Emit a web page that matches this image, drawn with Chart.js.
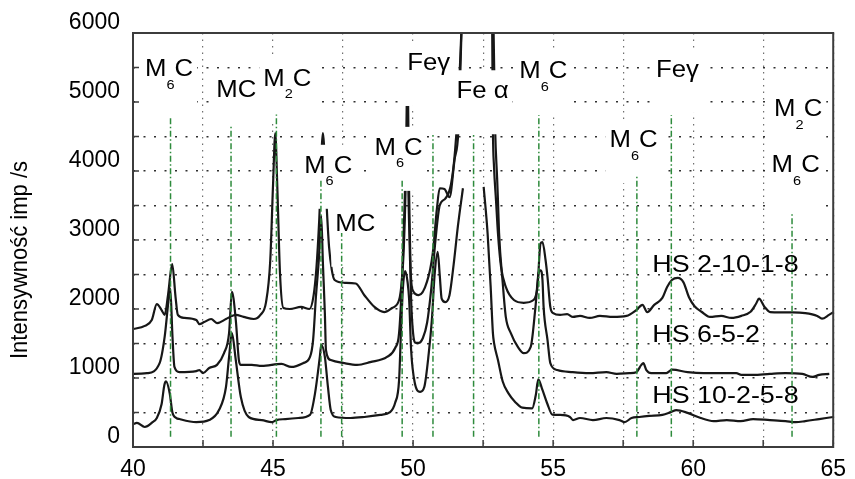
<!DOCTYPE html>
<html>
<head>
<meta charset="utf-8">
<script src="https://cdn.jsdelivr.net/npm/chart.js@4.4.1/dist/chart.umd.min.js"></script>
<style>
  html, body { margin: 0; padding: 0; background: #fff; }
  #wrap { position: relative; width: 855px; height: 479px; }
</style>
</head>
<body>
<div id="wrap"><canvas id="xrdChart"></canvas></div>
<script>
// Diffraction scans: [2θ in degrees, intensity in imp/s]
const hs21018 = [
  [40.0,1710],[40.42,1755],[40.67,1840],[40.85,2070],[41.02,1985],[41.13,1915],[41.25,2200],[41.4,2650],
  [41.52,2170],[41.6,1915],[41.84,1870],[42.26,1840],[42.37,1780],[42.54,1810],[42.79,1855],[43.0,1795],
  [43.32,1855],[43.46,1885],[43.67,1915],[43.95,1885],[44.31,1855],[44.55,1915],[44.75,2100],[44.9,2700],
  [45.0,3800],[45.08,4550],[45.15,3800],[45.25,2500],[45.37,2015],[45.6,2000],[46.0,2030],[46.3,2000],
  [46.45,2200],[46.55,2600],[46.65,3300],[46.78,4550],[46.9,3600],[47.0,2900],[47.1,2560],[47.2,2420],
  [47.55,2380],[47.95,2370],[48.26,2200],[48.62,2030],[48.97,1955],[49.25,2015],[49.5,2130],[49.6,2420],
  [49.67,2900],[49.73,3700],[49.8,5400],[49.86,3650],[49.92,2500],[50.0,2260],[50.2,2200],[50.5,2400],
  [50.7,2800],[50.85,3450],[50.95,3750],[51.12,3740],[51.3,3620],[51.48,4160],[51.62,4600],[51.75,6300],
  [52.3,12000],[52.82,6300],[52.85,4600],[52.89,4060],[52.96,3580],[53.03,3100],[53.14,2610],[53.31,2320],
  [53.6,2130],[53.95,2090],[54.3,2130],[54.44,2320],[54.55,2950],[54.62,2970],[54.73,2710],[54.8,2460],
  [54.9,2030],[55.0,1940],[55.25,1915],[55.5,1925],[55.71,1885],[55.96,1900],[56.31,1870],[56.67,1900],
  [57.13,1885],[57.62,1900],[57.97,1985],[58.19,2060],[58.36,1955],[58.61,2060],[58.9,2160],[59.07,2320],
  [59.24,2420],[59.45,2450],[59.65,2390],[59.85,2170],[60.05,2040],[60.3,1960],[60.6,1885],[61.0,1900],
  [61.37,1870],[61.72,1900],[62.05,1960],[62.25,2080],[62.35,2150],[62.55,2030],[62.75,1955],[63.1,1950],
  [63.55,1950],[64.0,1940],[64.43,1900],[64.6,1860],[64.85,1915],[65.0,1955]
];
const hs652 = [
  [40.0,1060],[40.5,1070],[40.95,1215],[41.13,1595],[41.27,2130],[41.33,2300],[41.41,1595],[41.48,1160],
  [41.66,1085],[42.26,1100],[42.37,1115],[42.5,1070],[42.72,1145],[43.0,1190],[43.25,1360],[43.43,1650],
  [43.53,2250],[43.67,1840],[43.78,1260],[43.85,1190],[44.24,1190],[44.6,1175],[45.3,1205],[45.65,1160],
  [46.07,1215],[46.32,1305],[46.43,1550],[46.53,2170],[46.64,2750],[46.72,3350],[46.78,2670],[46.85,1940],
  [46.89,1405],[47.06,1260],[47.55,1215],[48.0,1190],[48.47,1230],[49.07,1305],[49.36,1435],[49.5,1650],
  [49.6,2380],[49.68,3300],[49.78,4400],[49.86,3200],[49.93,2130],[50.0,1650],[50.1,1510],[50.2,1510],
  [50.35,1580],[50.5,1800],[50.65,2300],[50.8,3000],[50.95,3500],[51.15,3600],[51.35,3800],[51.5,4300],
  [51.64,5200],[51.76,6400],[52.3,12000],[52.86,6400],[52.93,4600],[53.0,3900],[53.03,3580],[53.07,3100],
  [53.2,2380],[53.31,1885],[53.49,1650],[53.74,1450],[53.95,1360],[54.2,1450],[54.37,2030],[54.48,2520],
  [54.55,2560],[54.62,2420],[54.66,2030],[54.8,1550],[54.9,1215],[55.15,1115],[55.7,1085],[56.3,1070],
  [56.9,1085],[57.27,1060],[57.72,1070],[57.97,1085],[58.15,1190],[58.22,1215],[58.33,1115],[58.5,1070],
  [59.04,1070],[59.25,1120],[59.8,1085],[60.37,1070],[60.97,1070],[61.54,1070],[61.72,1045],[62.14,1045],
  [62.74,1060],[63.3,1070],[63.9,1060],[64.26,1015],[64.5,1045],[64.86,1060]
];
const hs102558 = [
  [40.0,330],[40.14,350],[40.42,290],[40.7,360],[40.85,420],[41.02,620],[41.12,900],[41.18,950],
  [41.31,780],[41.41,495],[41.55,420],[41.66,405],[42.26,360],[42.72,390],[43.07,535],[43.32,870],
  [43.43,1305],[43.53,1650],[43.67,1260],[43.85,725],[44.13,435],[44.6,390],[44.95,360],[45.12,390],
  [45.44,405],[45.9,420],[46.32,465],[46.5,780],[46.67,1305],[46.72,1480],[46.85,1305],[46.96,870],
  [47.06,535],[47.24,435],[47.77,420],[48.26,435],[48.83,465],[49.18,505],[49.36,640],[49.5,970],
  [49.57,1695],[49.64,2320],[49.72,2550],[49.8,2400],[49.86,2130],[49.93,1405],[50.06,930],[50.25,800],
  [50.4,870],[50.56,1360],[50.67,1840],[50.77,2500],[50.88,2830],[50.95,2500],[51.02,2150],[51.15,2100],
  [51.3,2200],[51.45,2650],[51.6,3200],[51.78,3750],[52.15,null],[52.52,3770],[52.66,3100],[52.77,2320],
  [52.85,1650],[52.89,1510],[53.03,1260],[53.2,950],[53.4,780],[53.65,650],[53.9,570],[54.25,560],
  [54.38,750],[54.47,980],[54.6,850],[54.8,620],[54.97,470],[55.25,465],[55.6,435],[55.71,390],
  [55.96,420],[56.42,390],[56.9,420],[57.37,390],[57.55,360],[57.8,420],[58.08,435],[58.43,450],
  [58.9,465],[59.2,505],[59.4,535],[59.8,495],[60.27,420],[60.73,375],[61.2,390],[61.7,375],
  [62.14,405],[62.74,390],[63.3,375],[63.66,360],[64.0,375],[64.5,405],[65.0,435]
];

// Dash-dot markers for the phase reflections
const phaseLineX = [41.34, 43.5, 45.12, 46.71, 47.45, 49.61, 50.71, 52.16, 54.49, 57.99, 59.22, 63.53];
const phaseLineTop = [4800, 4640, 4820, 3870, 3100, 3860, 4520, 4520, 4810, 3940, 4810, 3400];
const phaseLineBottom = 150;

const xTickLabels = [40, 45, 50, 55, 60, 65];
const yTickLabels = [0, 1000, 2000, 3000, 4000, 5000, 6000];

// Phase names ("_" = next char is a subscript) with their anchor in data units
const peakLabels = [
  ['M_6C', 41.29, 5490], ['MC', 43.69, 5190], ['M_2C', 45.51, 5350],
  ['M_6C', 46.97, 4090], ['MC', 47.94, 3250], ['M_6C', 49.48, 4350],
  ['Feγ', 50.56, 5580], ['Fe α', 52.48, 5170], ['M_6C', 54.65, 5460],
  ['M_6C', 57.87, 4460], ['Feγ', 59.44, 5480], ['M_2C', 63.75, 4910],
  ['M_6C', 63.66, 4100]
];
const seriesLabels = [
  ['HS 2-10-1-8', 58.54, 2666],
  ['HS 6-5-2', 58.54, 1652],
  ['HS 10-2-5-8', 58.54, 768]
];

const FAMILY = 'Arial, "Liberation Sans", Helvetica, sans-serif';
const MAIN_FONT = '23px ' + FAMILY;
const SUB_FONT = '13px ' + FAMILY;
const SERIES_FONT = '24px ' + FAMILY;
const TEXT_STRETCH = 1.12;

Chart.defaults.font.family = FAMILY;
Chart.defaults.color = '#000';

const toPoints = arr => arr.map(([x, y]) => ({ x, y }));

const curveStyle = {
  borderColor: '#171717', borderWidth: 2.2, pointRadius: 0, fill: false,
  cubicInterpolationMode: 'monotone', spanGaps: false, order: 1
};

const datasets = [
  { label: 'HS 2-10-1-8', data: toPoints(hs21018), ...curveStyle },
  { label: 'HS 6-5-2', data: toPoints(hs652), ...curveStyle },
  { label: 'HS 10-2-5-8', data: toPoints(hs102558), ...curveStyle }
];
phaseLineX.forEach((x, i) => {
  datasets.push({
    label: 'phase ' + (i + 1), isPhaseLine: true,
    data: [{ x, y: phaseLineBottom }, { x, y: phaseLineTop[i] }],
    borderColor: '#2e8b3c', borderWidth: 1.5, borderDash: [6, 2.5, 1.5, 2.5],
    pointRadius: 0, tension: 0, order: 0
  });
});

// split 'M_6C' into runs of normal / subscript text
function labelRuns(text) {
  const runs = [];
  for (let i = 0; i < text.length; i++) {
    if (text[i] === '_') { runs.push({ t: text[++i], sub: true }); continue; }
    const last = runs[runs.length - 1];
    if (last && !last.sub) last.t += text[i];
    else runs.push({ t: text[i], sub: false });
  }
  return runs;
}

function peakLabelGeometry(chart, item) {
  const ctx = chart.ctx;
  const runs = labelRuns(item[0]);
  let w = 0;
  runs.forEach(r => {
    ctx.font = r.sub ? SUB_FONT : MAIN_FONT;
    r.w = ctx.measureText(r.t).width;
    w += r.w;
  });
  return {
    runs, w: w * TEXT_STRETCH,
    cx: chart.scales.x.getPixelForValue(item[1]),
    cy: chart.scales.y.getPixelForValue(item[2])
  };
}

// white patches behind the phase names, covering grid and scans
function maskLabelAreas(chart) {
  const ctx = chart.ctx;
  ctx.save();
  ctx.fillStyle = '#fff';
  peakLabels.forEach(item => {
    const g = peakLabelGeometry(chart, item);
    ctx.fillRect(g.cx - g.w / 2 - 4, g.cy - 20, g.w + 8, 64);
  });
  ctx.restore();
}

function drawPeakLabels(chart) {
  const ctx = chart.ctx;
  peakLabels.forEach(item => {
    const g = peakLabelGeometry(chart, item);
    ctx.save();
    ctx.translate(g.cx - g.w / 2, g.cy);
    ctx.scale(TEXT_STRETCH, 1);
    ctx.fillStyle = '#000';
    ctx.textBaseline = 'alphabetic';
    ctx.textAlign = 'left';
    let x = 0;
    g.runs.forEach(r => {
      ctx.font = r.sub ? SUB_FONT : MAIN_FONT;
      ctx.fillText(r.t, x, r.sub ? 20.5 : 8.2);
      x += r.w;
    });
    ctx.restore();
  });
}

function drawSeriesLabels(chart) {
  const ctx = chart.ctx;
  seriesLabels.forEach(([text, xv, yv]) => {
    ctx.save();
    ctx.translate(chart.scales.x.getPixelForValue(xv), chart.scales.y.getPixelForValue(yv));
    ctx.scale(TEXT_STRETCH, 1);
    ctx.font = SERIES_FONT;
    ctx.fillStyle = '#000';
    ctx.textBaseline = 'alphabetic';
    ctx.textAlign = 'left';
    ctx.fillText(text, 0, 8.6);
    ctx.restore();
  });
}

function drawFrame(chart) {
  const { ctx, chartArea: a, scales } = chart;
  ctx.save();
  ctx.strokeStyle = '#3c3c3c';
  ctx.lineWidth = 2;
  ctx.strokeRect(a.left, a.top, a.right - a.left, a.bottom - a.top);
  // short inward ticks
  ctx.lineWidth = 1.5;
  ctx.beginPath();
  scales.y.ticks.forEach(t => {
    const y = scales.y.getPixelForValue(t.value);
    ctx.moveTo(a.left, y); ctx.lineTo(a.left + 6, y);
  });
  scales.x.ticks.forEach(t => {
    const x = scales.x.getPixelForValue(t.value);
    ctx.moveTo(x, a.bottom); ctx.lineTo(x, a.bottom - 7);
  });
  ctx.stroke();
  ctx.restore();
}

function drawAxisTitle(chart) {
  const { ctx, chartArea: a } = chart;
  ctx.save();
  ctx.translate(20, (a.top + a.bottom) / 2 + 20);
  ctx.rotate(-Math.PI / 2);
  ctx.scale(1, TEXT_STRETCH);
  ctx.font = '22px ' + FAMILY;
  ctx.fillStyle = '#000';
  ctx.textAlign = 'center';
  ctx.textBaseline = 'middle';
  ctx.fillText('Intensywność imp /s', 0, 0);
  ctx.restore();
}

const overlayPlugin = {
  id: 'xrdOverlay',
  beforeDatasetsDraw(chart) { chart.$masked = false; },
  beforeDatasetDraw(chart, args) {
    if (!chart.$masked && chart.data.datasets[args.index].isPhaseLine) {
      maskLabelAreas(chart);
      chart.$masked = true;
    }
  },
  afterDatasetsDraw(chart) {
    if (!chart.$masked) maskLabelAreas(chart);
    drawFrame(chart);
    drawPeakLabels(chart);
    drawSeriesLabels(chart);
    drawAxisTitle(chart);
  }
};

new Chart(document.getElementById('xrdChart'), {
  type: 'line',
  data: { datasets },
  plugins: [overlayPlugin],
  options: {
    responsive: true,
    maintainAspectRatio: false,
    animation: false,
    layout: { padding: { top: 33, right: 14, left: 0, bottom: 0 } },
    plugins: { legend: { display: false }, tooltip: { enabled: false } },
    scales: {
      x: {
        type: 'linear', min: 40, max: 65,
        afterFit(scale) { scale.height = 32; },
        ticks: {
          stepSize: 2.5, autoSkip: false, maxRotation: 0, padding: 9,
          font: { size: 23 }, color: '#000',
          callback: v => xTickLabels.includes(v) ? String(v) : ''
        },
        grid: { color: 'rgba(95,95,95,0.9)', lineWidth: 1.2, drawTicks: false },
        border: { display: false, dash: [1.5, 5] }
      },
      y: {
        type: 'linear', min: 0, max: 6000,
        afterFit(scale) { scale.width = 133; },
        ticks: {
          stepSize: 500, padding: 13, labelOffset: -10,
          font: { size: 23 }, color: '#000',
          callback: v => yTickLabels.includes(v) ? String(v) : ''
        },
        grid: { color: 'rgba(25,25,25,0.9)', lineWidth: 1.6, drawTicks: false },
        border: { display: false, dash: [2, 8.5] }
      }
    }
  }
});
</script>
</body>
</html>
